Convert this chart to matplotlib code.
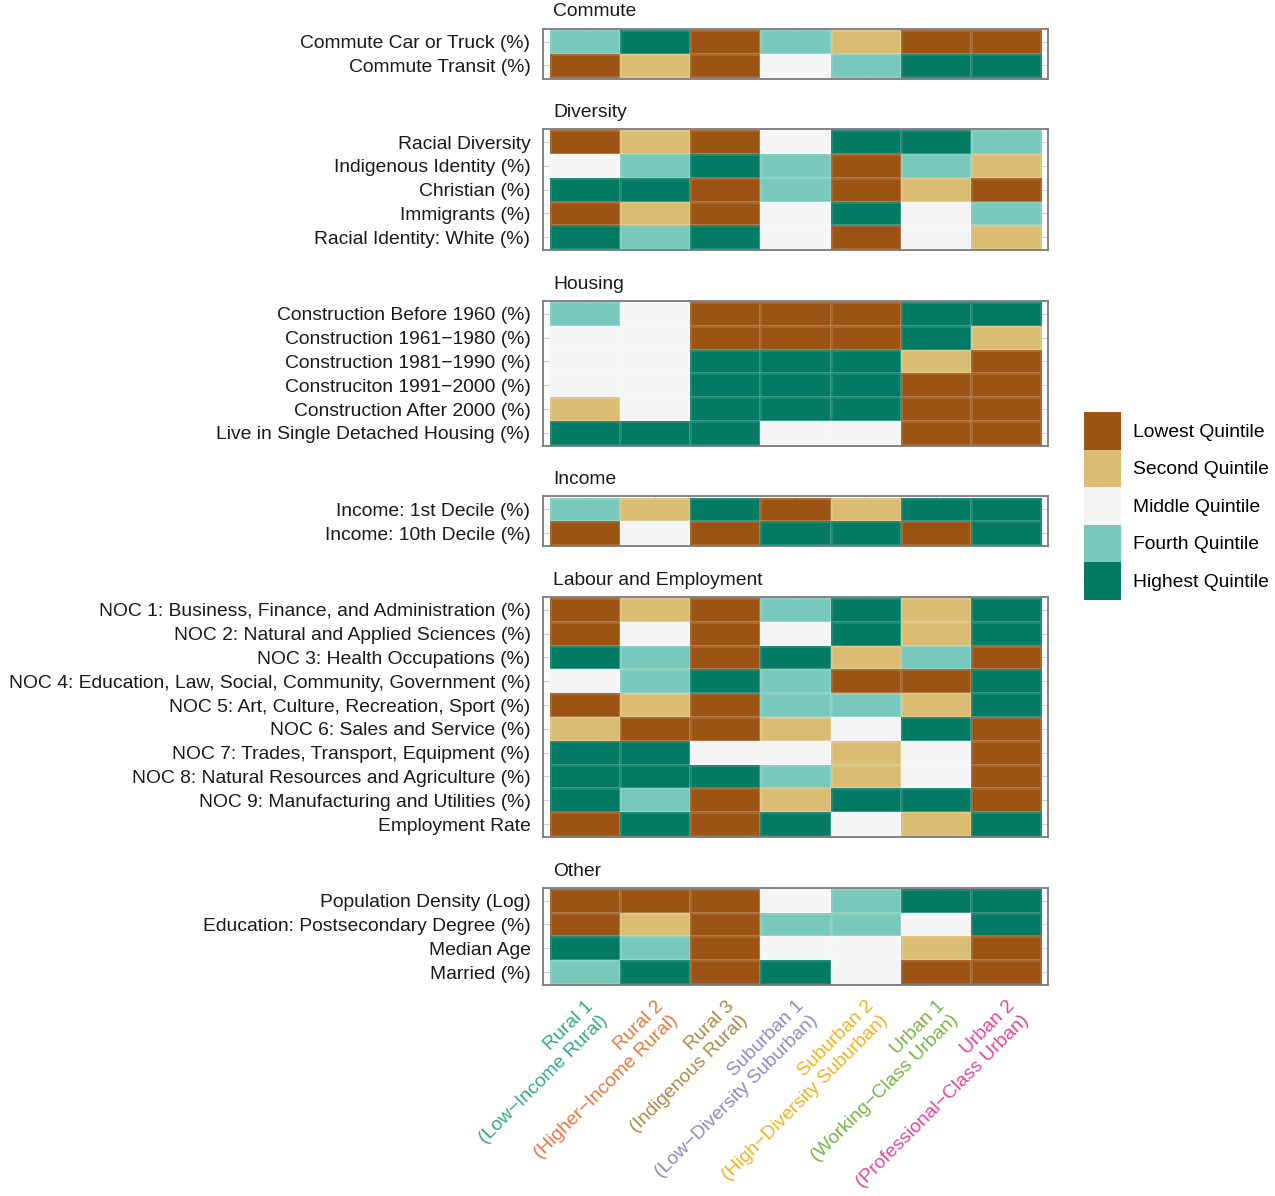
import matplotlib.pyplot as plt
import numpy as np
from matplotlib.colors import ListedColormap, BoundaryNorm
from matplotlib.patches import Patch

plt.rcParams['font.family'] = ['Liberation Sans', 'DejaVu Sans']

# Quintile codes: 1 lowest ... 5 highest
clusters = ['Rural 1\n(Low\u2212Income Rural)', 'Rural 2\n(Higher\u2212Income Rural)',
            'Rural 3\n(Indigenous Rural)', 'Suburban 1\n(Low\u2212Diversity Suburban)',
            'Suburban 2\n(High\u2212Diversity Suburban)', 'Urban 1\n(Working\u2212Class Urban)',
            'Urban 2\n(Professional\u2212Class Urban)']
cluster_colors = ['#35AA86', '#E7773E', '#AE8A48', '#8F8AC4', '#EDB524', '#78B443', '#EA4496']

quintile_names = ['Lowest Quintile', 'Second Quintile', 'Middle Quintile',
                  'Fourth Quintile', 'Highest Quintile']
quintile_colors = ['#9C5414', '#DABD73', '#F5F5F5', '#78C9BB', '#027A64']

groups = ['Commute', 'Diversity', 'Housing', 'Income', 'Labour and Employment', 'Other']

commute_vars = ['Commute Car or Truck (%)', 'Commute Transit (%)']
commute_vals = [[4, 5, 1, 4, 2, 1, 1],
                [1, 2, 1, 3, 4, 5, 5]]

diversity_vars = ['Racial Diversity', 'Indigenous Identity (%)', 'Christian (%)',
                  'Immigrants (%)', 'Racial Identity: White (%)']
diversity_vals = [[1, 2, 1, 3, 5, 5, 4],
                  [3, 4, 5, 4, 1, 4, 2],
                  [5, 5, 1, 4, 1, 2, 1],
                  [1, 2, 1, 3, 5, 3, 4],
                  [5, 4, 5, 3, 1, 3, 2]]

housing_vars = ['Construction Before 1960 (%)', 'Construction 1961\u22121980 (%)',
                'Construction 1981\u22121990 (%)', 'Construciton 1991\u22122000 (%)',
                'Construction After 2000 (%)', 'Live in Single Detached Housing (%)']
housing_vals = [[4, 3, 1, 1, 1, 5, 5],
                [3, 3, 1, 1, 1, 5, 2],
                [3, 3, 5, 5, 5, 2, 1],
                [3, 3, 5, 5, 5, 1, 1],
                [2, 3, 5, 5, 5, 1, 1],
                [5, 5, 5, 3, 3, 1, 1]]

income_vars = ['Income: 1st Decile (%)', 'Income: 10th Decile (%)']
income_vals = [[4, 2, 5, 1, 2, 5, 5],
               [1, 3, 1, 5, 5, 1, 5]]

labour_vars = ['NOC 1: Business, Finance, and Administration (%)',
               'NOC 2: Natural and Applied Sciences (%)',
               'NOC 3: Health Occupations (%)',
               'NOC 4: Education, Law, Social, Community, Government (%)',
               'NOC 5: Art, Culture, Recreation, Sport (%)',
               'NOC 6: Sales and Service (%)',
               'NOC 7: Trades, Transport, Equipment (%)',
               'NOC 8: Natural Resources and Agriculture (%)',
               'NOC 9: Manufacturing and Utilities (%)',
               'Employment Rate']
labour_vals = [[1, 2, 1, 4, 5, 2, 5],
               [1, 3, 1, 3, 5, 2, 5],
               [5, 4, 1, 5, 2, 4, 1],
               [3, 4, 5, 4, 1, 1, 5],
               [1, 2, 1, 4, 4, 2, 5],
               [2, 1, 1, 2, 3, 5, 1],
               [5, 5, 3, 3, 2, 3, 1],
               [5, 5, 5, 4, 2, 3, 1],
               [5, 4, 1, 2, 5, 5, 1],
               [1, 5, 1, 5, 3, 2, 5]]

other_vars = ['Population Density (Log)', 'Education: Postsecondary Degree (%)',
              'Median Age', 'Married (%)']
other_vals = [[1, 1, 1, 3, 4, 5, 5],
              [1, 2, 1, 4, 4, 3, 5],
              [5, 4, 1, 3, 3, 2, 1],
              [4, 5, 1, 5, 3, 1, 1]]

panels = list(zip(groups,
                  [commute_vars, diversity_vars, housing_vars, income_vars, labour_vars, other_vars],
                  [commute_vals, diversity_vals, housing_vals, income_vals, labour_vals, other_vals]))

W, H = 1275, 1196
fig = plt.figure(figsize=(W / 100, H / 100), dpi=100)

cmap = ListedColormap(quintile_colors)
norm = BoundaryNorm([0.5, 1.5, 2.5, 3.5, 4.5, 5.5], cmap.N)

# layout in pixels
left_px, right_px = 543, 1048
top_px = 28.5
row_h, pad_px, gap_px = 23.8, 2.5, 50.3
fs = 13.9
fs_px = fs * 100 / 72

y = top_px
for i, (name, vars_, vals) in enumerate(panels):
    n = len(vars_)
    h = n * row_h + pad_px
    ax = fig.add_axes([left_px / W, 1 - (y + h) / H, (right_px - left_px) / W, h / H])
    data = np.array(vals)
    ax.pcolormesh(np.arange(8) - 0.5, np.arange(n + 1) - 0.5, data, cmap=cmap, norm=norm,
                  edgecolors=(1, 1, 1, 0.12), linewidth=0.8, zorder=2)
    xpad = 0.1
    ypad = (pad_px / 2) / row_h
    ax.set_xlim(-0.5 - xpad, 6.5 + xpad)
    ax.set_ylim(n - 0.5 + ypad, -0.5 - ypad)
    ax.set_yticks(range(n))
    ax.set_yticklabels(vars_, fontsize=fs, color='#1a1a1a')
    ax.set_xticks(range(7))
    ax.grid(True, color='#d0d0d0', linewidth=0.8, zorder=0)
    ax.set_axisbelow(True)
    ax.tick_params(axis='y', length=0, pad=9)
    ax.tick_params(axis='x', length=0)
    for s in ax.spines.values():
        s.set_color('#7a7a7a')
        s.set_linewidth(1.3)
    ax.annotate(name, xy=(0, 1), xycoords='axes fraction', xytext=(10, 8),
                textcoords='offset pixels', ha='left', va='bottom', fontsize=fs,
                color='#1a1a1a')
    if i == len(panels) - 1:
        ax.set_xticklabels(clusters, rotation=45, ha='right', va='top',
                           rotation_mode='anchor', fontsize=fs, multialignment='right')
        ax.tick_params(axis='x', pad=9)
        for lab, c in zip(ax.get_xticklabels(), cluster_colors):
            lab.set_color(c)
    else:
        ax.set_xticklabels([])
    y += h + gap_px

# legend keys 37 x 37.5 px, touching each other
hh = (37.5 / fs_px - 0.245) / 0.65
handles = [Patch(facecolor=c, edgecolor='none') for c in quintile_colors]
fig.legend(handles, quintile_names, loc='center left',
           bbox_to_anchor=(1084 / W, 1 - 506 / H), frameon=False, fontsize=fs,
           handlelength=37 / fs_px, handleheight=hh, labelspacing=0,
           handletextpad=12 / fs_px, borderpad=0, borderaxespad=0)

fig.savefig('out.png', dpi=100)
